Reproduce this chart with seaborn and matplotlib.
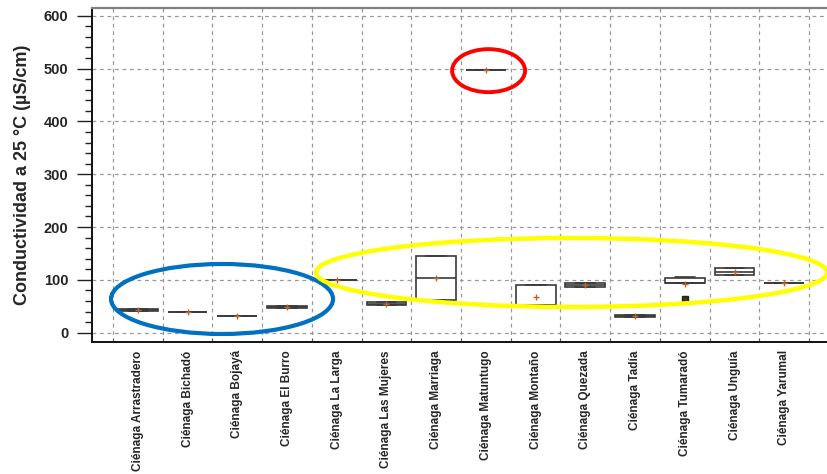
import matplotlib
matplotlib.use("Agg")
import matplotlib.pyplot as plt
import pandas as pd
import seaborn as sns
from matplotlib.patches import Ellipse
from matplotlib.ticker import MultipleLocator, FixedLocator

# Conductivity readings (µS/cm at 25 °C) per wetland
sites = [
    "Ciénaga Arrastradero", "Ciénaga Bichadó", "Ciénaga Bojayá", "Ciénaga El Burro",
    "Ciénaga La Larga", "Ciénaga Las Mujeres", "Ciénaga Marriaga", "Ciénaga Matuntugo",
    "Ciénaga Montaño", "Ciénaga Quezada", "Ciénaga Tadía", "Ciénaga Tumaradó",
    "Ciénaga Unguía", "Ciénaga Yarumal",
]
arrastradero = [41, 41, 42.5, 44, 44]
bichado = [39, 39, 39.2, 39.5, 39.5]
bojaya = [31, 31, 31, 31.2, 31.2]
el_burro = [47, 47, 48.5, 50, 50]
la_larga = [99, 99, 99.2, 99.4, 99.4]
las_mujeres = [52, 52, 55, 57.5, 57.5]
marriaga = [62, 62, 103, 146, 146]
matuntugo = [497, 497, 497, 497.3, 497.3]
montano = [52, 52, 53, 90, 90]
quezada = [86, 86, 90, 94.6, 94.6]
tadia = [30, 30, 32, 33.5, 33.5]
tumarado = [64, 94.6, 95, 103, 105]
unguia = [108.7, 108.7, 115.5, 122, 122]
yarumal = [93.5, 93.5, 93.5, 93.6, 93.6]

readings = [arrastradero, bichado, bojaya, el_burro, la_larga, las_mujeres, marriaga,
            matuntugo, montano, quezada, tadia, tumarado, unguia, yarumal]
df = pd.DataFrame(
    [(s, v) for s, vals in zip(sites, readings) for v in vals],
    columns=["site", "value"],
)

sns.set_style("white")
plt.rcParams["font.family"] = ["Liberation Sans", "DejaVu Sans"]
plt.rcParams["font.weight"] = "bold"

fig = plt.figure(figsize=(8.28, 4.74), dpi=100)
ax = fig.add_axes([92 / 828, 1 - 342 / 474, 1 - 92 / 828, (342 - 8) / 474])

sns.boxplot(
    data=df, x="site", y="value", order=sites, ax=ax,
    color="white", saturation=1, linecolor="#3a3a3a", linewidth=1.2, width=0.8,
    showmeans=True,
    meanprops=dict(marker="+", markeredgecolor="#b8652e", markersize=5, markeredgewidth=1.0),
    flierprops=dict(marker="s", markerfacecolor="#4a2e14", markeredgecolor="#222222", markersize=5),
    zorder=3,
)

ax.set_xlim(-0.922, 13.88)
ax.set_ylim(-17.6, 614.6)

# y axis: major every 100, minor every 20
ax.yaxis.set_major_locator(MultipleLocator(100))
ax.yaxis.set_minor_locator(MultipleLocator(20))
ax.tick_params(axis="y", which="major", length=11, width=1, color="#222222",
               labelsize=10.5, pad=6, left=True)
ax.tick_params(axis="y", which="minor", length=5, width=1, color="#222222", left=True)

# x axis: labels at category centres, ticks/grid at boundaries
ax.set_xticks(range(len(sites)))
ax.set_xticklabels(sites, rotation=90, ha="center", va="top", fontsize=8.5, fontweight="bold")
ax.xaxis.set_minor_locator(FixedLocator([i - 0.5 for i in range(len(sites) + 1)]))
ax.tick_params(axis="x", which="major", length=0, pad=6)
ax.tick_params(axis="x", which="minor", length=3, direction="in", color="#444444", bottom=True)

for lbl in ax.get_yticklabels():
    lbl.set_fontweight("bold")

ax.grid(False)
ax.grid(which="major", axis="y", ls=(0, (3, 3)), color="#9a9a9a", lw=0.9, zorder=0)
ax.grid(which="minor", axis="x", ls=(0, (3, 3)), color="#9a9a9a", lw=0.9, zorder=0)
ax.set_axisbelow(True)

ax.set_xlabel("")
ax.set_ylabel("Conductividad a 25 °C (µS/cm)", fontsize=13, fontweight="bold", labelpad=9)

for side in ("left", "bottom"):
    ax.spines[side].set_color("#111111")
    ax.spines[side].set_linewidth(1.4)
ax.spines["top"].set_color("#808080")
ax.spines["top"].set_linewidth(1.6)
ax.spines["right"].set_visible(False)

# Highlight groups of wetlands
for (cx, cy, w, h, col, lw) in [
    (1.693, 63.8, 4.466, 132.5, "#0070c0", 3.0),
    (8.723, 114.0, 10.28, 130.6, "#ffff00", 3.2),
    (7.054, 496.0, 1.468, 81.4, "#ff0000", 2.8),
]:
    ax.add_patch(Ellipse((cx, cy), w, h, fill=False, edgecolor=col, lw=lw,
                         zorder=6, clip_on=False))

fig.savefig("out.png", dpi=100)
